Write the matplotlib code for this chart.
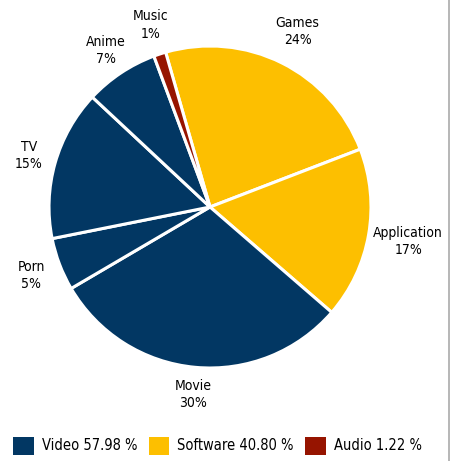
import matplotlib
matplotlib.use("Agg")
import numpy as np
import matplotlib.pyplot as plt
from matplotlib.patches import Patch
from matplotlib.lines import Line2D

# slice data (clockwise from the top)
labels = ["Games", "Application", "Movie", "Porn", "TV", "Anime", "Music"]
values = [23.6, 17.2, 30.2, 5.3, 15.1, 7.38, 1.22]
groups = ["Software", "Software", "Video", "Video", "Video", "Video", "Audio"]

legend_names = ["Video", "Software", "Audio"]
legend_values = [57.98, 40.80, 1.22]

colors = {"Video": "#023763", "Software": "#FDBF00", "Audio": "#961400"}
label_dist = [1.22, 1.25, 1.17, 1.19, 1.17, 1.17, 1.19]

plt.rcParams['font.family'] = ['DejaVu Sans']
plt.rcParams['font.stretch'] = 'condensed'

fig = plt.figure(figsize=(4.5, 4.61), dpi=100)
W, H = 450, 461
cx, cy, r = 210, 207, 161
ax = fig.add_axes([(cx - r) / W, (H - cy - r) / H, 2 * r / W, 2 * r / H])

texts = ["%s\n%d%%" % (l, round(v)) for l, v in zip(labels, values)]
wedges, txts = ax.pie(values, labels=texts, colors=[colors[g] for g in groups],
                      startangle=106, counterclock=False,
                      wedgeprops=dict(edgecolor="white", linewidth=2.2),
                      textprops=dict(fontsize=10, color="#000000", stretch="condensed"))
for w, t, d in zip(wedges, txts, label_dist):
    a = np.deg2rad((w.theta1 + w.theta2) / 2)
    t.set_position((d * np.cos(a), d * np.sin(a)))
    t.set_horizontalalignment("center")
    t.set_verticalalignment("center")
    t.set_linespacing(1.3)
ax.set_xlim(-1, 1)
ax.set_ylim(-1, 1)
ax.set_aspect("equal")

handles = [Patch(facecolor=colors[n], edgecolor="none") for n in legend_names]
leg_labels = ["%s %.2f %%" % (n, v) for n, v in zip(legend_names, legend_values)]
fig.legend(handles, leg_labels, loc="lower left", bbox_to_anchor=(0.01, -0.005),
           ncol=3, frameon=False, prop=dict(size=10.5, stretch="condensed"),
           handlelength=1.4, handleheight=1.5,
           handletextpad=0.55, columnspacing=0.8, borderaxespad=0.2)

fig.add_artist(Line2D([0.998, 0.998], [0, 1], color="#aaaaaa", linewidth=1.2))

fig.savefig("out.png", dpi=100)
